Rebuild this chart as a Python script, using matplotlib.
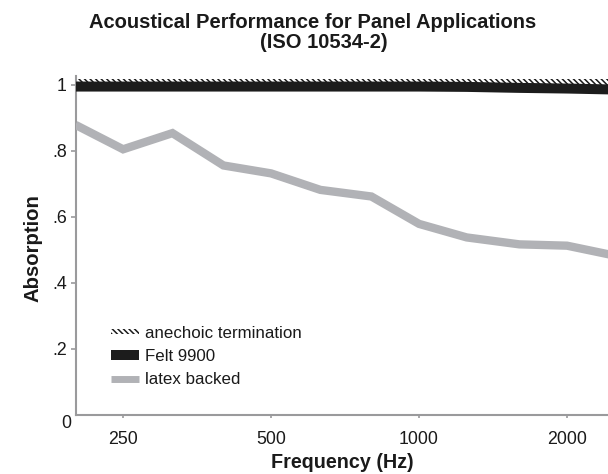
import matplotlib
matplotlib.use("Agg")
import matplotlib.pyplot as plt
from matplotlib.patches import Rectangle, Patch
from matplotlib.lines import Line2D
from matplotlib.legend_handler import HandlerPatch

plt.rcParams['font.family'] = ['Liberation Sans', 'DejaVu Sans']
plt.rcParams['hatch.linewidth'] = 1.1

# Data
freqs = [200, 250, 315, 400, 500, 630, 800, 1000, 1250, 1600, 2000, 2500]
anechoic = [1.0] * 12
felt = [0.994, 0.994, 0.994, 0.994, 0.994, 0.994, 0.994, 0.994, 0.993, 0.990, 0.988, 0.985]
latex = [0.878, 0.804, 0.853, 0.755, 0.731, 0.681, 0.661, 0.578, 0.537, 0.516, 0.512, 0.482]
xticks = [250, 500, 1000, 2000]
xticklabels = ['250', '500', '1000', '2000']
yticks = [0.2, 0.4, 0.6, 0.8, 1.0]
yticklabels = ['.2', '.4', '.6', '.8', '1']

W, H = 608, 474
fig = plt.figure(figsize=(W / 100, H / 100), dpi=100)
ax = fig.add_axes([76 / W, (H - 414.7) / H, 1 - 76 / W, (414.7 - 76) / H])

axis_gray = '#9a9a9c'
text_col = '#1a1a1a'

# anechoic termination: hatched strip
band = ax.fill_between(freqs, [a - 0.01 for a in anechoic], [a + 0.016 for a in anechoic],
                       facecolor='none', edgecolor='#1a1a1a', hatch='\\\\\\\\\\\\',
                       linewidth=0, zorder=2)
ax.plot(freqs, felt, color='#1c1c1c', lw=7.2, solid_capstyle='butt', zorder=3)
ax.plot(freqs, latex, color='#b1b2b6', lw=6.0, solid_capstyle='butt',
        solid_joinstyle='miter', zorder=3)

ax.set_xscale('log')
ax.set_xlim(200.5, 2423)
ax.set_ylim(0, 1.026)

ax.set_xticks(xticks)
ax.set_xticklabels(xticklabels)
ax.xaxis.set_minor_locator(matplotlib.ticker.NullLocator())
ax.set_yticks(yticks)
ax.set_yticklabels(yticklabels)

for s in ['top', 'right']:
    ax.spines[s].set_visible(False)
for s in ['left', 'bottom']:
    ax.spines[s].set_color(axis_gray)
    ax.spines[s].set_linewidth(1.5)

ax.tick_params(axis='x', length=2.5, width=1.2, color=axis_gray, pad=9,
               labelsize=12.8, labelcolor=text_col)
ax.tick_params(axis='y', length=3.5, width=1.2, color=axis_gray, pad=3.2,
               labelsize=12.8, labelcolor=text_col)

# "0" label placed below-left of the origin
ax.annotate('0', xy=(0, 0), xycoords='axes fraction', xytext=(-6.7, -6.0),
            textcoords='offset points', ha='center', va='center',
            fontsize=12.8, color=text_col)

fig.text(313 / W, 1 - 22 / H, 'Acoustical Performance for Panel Applications',
         ha='center', va='center', fontsize=14.5, fontweight='bold', color=text_col)
fig.text(324 / W, 1 - 43 / H, '(ISO 10534-2)',
         ha='center', va='center', fontsize=14.5, fontweight='bold', color=text_col)

fig.text(342 / W, 1 - 462 / H, 'Frequency (Hz)', ha='center', va='center',
         fontsize=14.2, fontweight='bold', color=text_col)
fig.text(33 / W, 1 - 248 / H, 'Absorption', ha='center', va='center', rotation=90,
         fontsize=14.6, fontweight='bold', color=text_col)


class ThinHatch(HandlerPatch):
    def __init__(self, frac, **kw):
        self.frac = frac
        super().__init__(**kw)

    def create_artists(self, legend, orig_handle, xdescent, ydescent, width, height,
                       fontsize, trans):
        h = height * self.frac
        p = Rectangle((-xdescent, -ydescent + (height - h) / 2), width, h,
                      facecolor='none', edgecolor='#1a1a1a', hatch=orig_handle.get_hatch(),
                      linewidth=0, transform=trans)
        return [p]


h_an = Patch(facecolor='none', edgecolor='#1a1a1a', hatch='\\\\\\\\\\\\', linewidth=0)
h_felt = Line2D([], [], color='#1c1c1c', lw=7.2, solid_capstyle='butt')
h_latex = Line2D([], [], color='#b1b2b6', lw=5.0, solid_capstyle='butt')
leg = ax.legend([h_an, h_felt, h_latex],
                ['anechoic termination', 'Felt 9900', 'latex backed'],
                handler_map={h_an: ThinHatch(0.45)},
                loc='upper left', bbox_to_anchor=(35 / 532, (414.7 - 325.5) / 338.7),
                frameon=False, fontsize=12.2, handlelength=1.65, handletextpad=0.35,
                labelspacing=0.5, borderpad=0, borderaxespad=0)
for t in leg.get_texts():
    t.set_color(text_col)

fig.savefig('out.png', dpi=100)
